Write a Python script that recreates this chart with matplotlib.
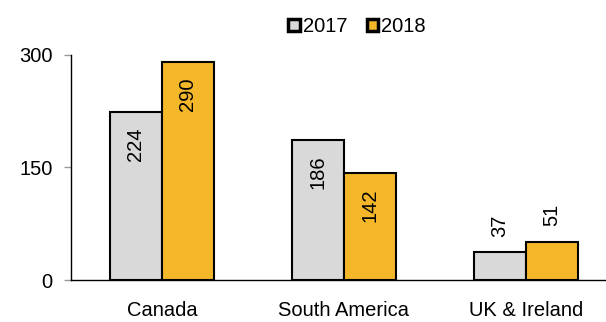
import matplotlib
matplotlib.use("Agg")
import matplotlib.pyplot as plt
import numpy as np

regions = ["Canada", "South America", "UK & Ireland"]
years = ["2017", "2018"]
values_2017 = [224, 186, 37]
values_2018 = [290, 142, 51]
yticks = [0, 150, 300]

plt.rcParams["font.family"] = ["Liberation Sans", "DejaVu Sans"]
plt.rcParams["font.size"] = 14.5

fig = plt.figure(figsize=(6.06, 3.22), dpi=100)
ax = fig.add_axes([0.117, 0.1304, 0.883, 0.699])

x = np.arange(len(regions))
w = 0.286
colors = ["#D9D9D9", "#F4B72A"]
for i, (vals, col, lab) in enumerate(zip([values_2017, values_2018], colors, years)):
    pos = x + (i - 0.5) * w
    bars = ax.bar(pos, vals, width=w, color=col, edgecolor="black", linewidth=1.5, label=lab)
    for b, v in zip(bars, vals):
        cx = b.get_x() + b.get_width() / 2
        if v > 100:
            # label inside, near the top
            ax.annotate(str(v), (cx, v), xytext=(0, -11), textcoords="offset points",
                        rotation=90, ha="center", va="top")
        else:
            ax.annotate(str(v), (cx, v), xytext=(0, 11), textcoords="offset points",
                        rotation=90, ha="center", va="bottom")

ax.set_xlim(-0.5, 2.44)
ax.set_ylim(0, 300)
ax.set_yticks(yticks)
ax.set_xticks(x)
ax.set_xticklabels(regions)
ax.tick_params(axis="x", length=0, pad=15)
ax.tick_params(axis="y", length=5, color="#999999", width=1, pad=8)
for s in ["top", "right"]:
    ax.spines[s].set_visible(False)
ax.spines["left"].set_linewidth(1)
ax.spines["bottom"].set_linewidth(1)

leg = ax.legend(loc="upper center", bbox_to_anchor=(0.535, 1.25), ncol=2, frameon=False,
                handlelength=0.55, handleheight=0.55, handletextpad=0.15, columnspacing=1.0)
for h in leg.legend_handles:
    h.set_linewidth(2.5)

fig.savefig("out.png", dpi=100)
